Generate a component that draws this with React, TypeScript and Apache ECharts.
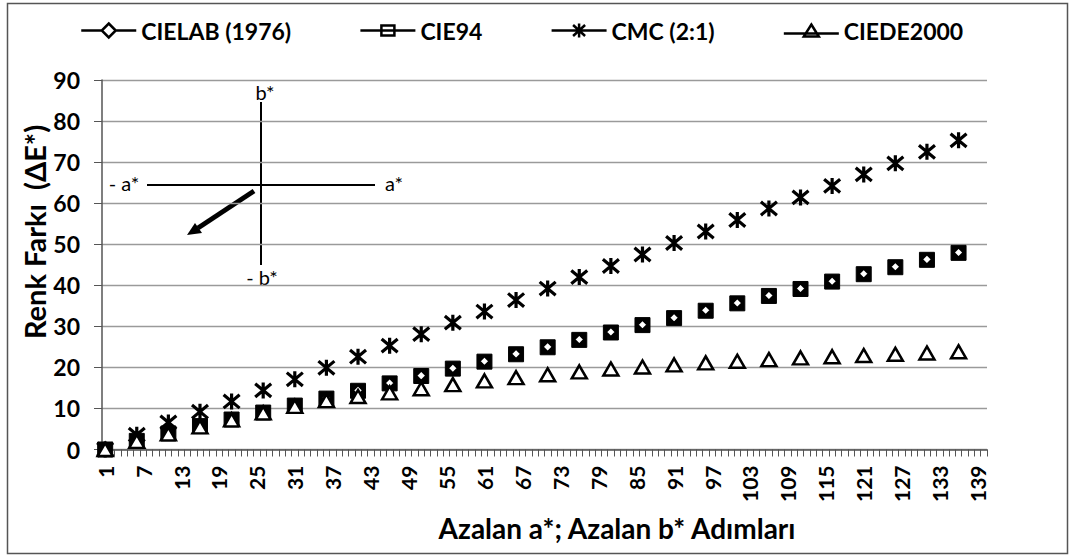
import React, { useEffect, useRef } from "react";
import * as echarts from "echarts";

// ---------- data ----------
const categories: string[] = Array.from({ length: 140 }, (_, i) => String(i + 1));
const steps: string[] = ["1","6","11","16","21","26","31","36","41","46","51","56","61","66","71","76","81","86","91","96","101","106","111","116","121","126","131","136"];
const cielab: number[] = [0, 2.1, 3.9, 5.8, 7.4, 9.1, 10.8, 12.6, 14.4, 16.2, 18.0, 19.8, 21.5, 23.3, 25.0, 26.8, 28.6, 30.4, 32.1, 33.9, 35.7, 37.5, 39.2, 41.0, 42.8, 44.5, 46.3, 48.0];
const cie94: number[] = [0, 2.1, 3.9, 5.7, 7.3, 9.0, 10.7, 12.4, 14.3, 16.1, 17.9, 19.7, 21.4, 23.2, 24.9, 26.7, 28.5, 30.3, 32.0, 33.8, 35.6, 37.4, 39.1, 40.9, 42.7, 44.4, 46.2, 47.9];
const cmc: number[] = [0, 3.6, 6.6, 9.2, 11.7, 14.4, 17.1, 19.9, 22.6, 25.3, 28.1, 30.9, 33.6, 36.4, 39.2, 42.0, 44.7, 47.5, 50.3, 53.1, 55.9, 58.7, 61.4, 64.2, 67.0, 69.7, 72.5, 75.3];
const ciede2000: number[] = [0, 2.0, 3.8, 5.5, 7.2, 8.9, 10.5, 11.9, 12.9, 13.8, 14.8, 15.8, 16.7, 17.5, 18.2, 18.9, 19.6, 20.1, 20.6, 21.1, 21.5, 21.9, 22.3, 22.6, 22.9, 23.2, 23.5, 23.8];
const seriesNames: string[] = ["CIELAB (1976)", "CIE94", "CMC (2:1)", "CIEDE2000"];
const yTicks = { min: 0, max: 90, interval: 10 };
const xTitle = "Azalan a*; Azalan b* Adımları";
const yTitle = "Renk Farkı  (ΔE*)";

const FONT = "Lato, 'Open Sans', sans-serif";
const STAR = "path://M0,0L10,10M10,0L0,10M5,-1L5,11";

// legend icons: 55 x 14 boxes, line + marker
const ICON_DIAMOND = "path://M0,7L20,7M35,7L55,7M27.5,0L34.5,7L27.5,14L20.5,7Z";
const ICON_SQUARE = "path://M0,7L55,7M21,2L34,2L34,12L21,12Z M0,0 M55,14";
const ICON_STAR = "path://M0,7L55,7M21.5,1.5L33.5,12.5M33.5,1.5L21.5,12.5M27.5,0L27.5,14";
const ICON_TRI = "path://M0,10L55,10M27.5,1L35,13L20,13Z M0,0 M55,14";

function pairs(vals: number[]) {
  return steps.map((s, i) => [s, vals[i]]);
}

export default function App() {
  const ref = useRef<HTMLDivElement>(null);
  useEffect(() => {
    if (!ref.current) return;
    const chart = echarts.init(ref.current, undefined, { renderer: "svg" });
    const option: any = {
      animation: false,
      backgroundColor: "#ffffff",
      textStyle: { fontFamily: FONT },
      grid: { left: 102, top: 80, width: 885, height: 369.5, containLabel: false },
      legend: {
        left: 75,
        top: 14,
        itemWidth: 55,
        itemHeight: 14,
        itemGap: 68,
        textStyle: { fontFamily: FONT, fontWeight: "bold", fontSize: 23, color: "#000" },
        data: [
          { name: seriesNames[0], icon: ICON_DIAMOND, itemStyle: { color: "#fff", borderColor: "#000", borderWidth: 2.5 } },
          { name: seriesNames[1], icon: ICON_SQUARE, itemStyle: { color: "rgba(255,255,255,0)", borderColor: "#000", borderWidth: 2.5 } },
          { name: seriesNames[2], icon: ICON_STAR, itemStyle: { color: "rgba(0,0,0,0)", borderColor: "#000", borderWidth: 2.5 } },
          { name: seriesNames[3], icon: ICON_TRI, itemStyle: { color: "rgba(255,255,255,0)", borderColor: "#000", borderWidth: 2.5 } },
        ],
      },
      xAxis: {
        type: "category",
        data: categories,
        boundaryGap: true,
        axisLine: { show: true, lineStyle: { color: "#555", width: 1.5 } },
        axisTick: { show: true, interval: 0, length: 7, lineStyle: { color: "#555", width: 1 } },
        axisLabel: {
          interval: 5,
          rotate: 90,
          margin: 16,
          fontFamily: FONT,
          fontWeight: "bold",
          fontSize: 21,
          color: "#000",
        },
        splitLine: { show: false },
      },
      yAxis: {
        type: "value",
        min: yTicks.min,
        max: yTicks.max,
        interval: yTicks.interval,
        axisLine: { show: true, lineStyle: { color: "#555", width: 1.5 } },
        axisTick: { show: true, length: 8, lineStyle: { color: "#555", width: 1 } },
        axisLabel: { margin: 22, fontFamily: FONT, fontWeight: "bold", fontSize: 23, color: "#000" },
        splitLine: { show: true, lineStyle: { color: "#9a9a9a", width: 1.3 } },
      },
      series: [
        {
          name: seriesNames[1],
          type: "line",
          data: pairs(cie94),
          symbol: "rect",
          symbolSize: 15,
          showAllSymbol: true,
          lineStyle: { width: 0, opacity: 0 },
          itemStyle: { color: "#000", borderColor: "#000", borderWidth: 1 },
          z: 2,
        },
        {
          name: seriesNames[0],
          type: "line",
          data: pairs(cielab),
          symbol: "diamond",
          symbolSize: 10,
          showAllSymbol: true,
          lineStyle: { width: 0, opacity: 0 },
          itemStyle: { color: "#fff", borderColor: "#000", borderWidth: 2 },
          z: 3,
        },
        {
          name: seriesNames[2],
          type: "line",
          data: pairs(cmc),
          symbol: STAR,
          symbolSize: 16,
          showAllSymbol: true,
          lineStyle: { width: 0, opacity: 0 },
          itemStyle: { color: "rgba(0,0,0,0)", borderColor: "#000", borderWidth: 3.2 },
          z: 4,
        },
        {
          name: seriesNames[3],
          type: "line",
          data: pairs(ciede2000),
          symbol: "triangle",
          symbolSize: [15, 13],
          showAllSymbol: true,
          lineStyle: { width: 0, opacity: 0 },
          itemStyle: { color: "#fff", borderColor: "#000", borderWidth: 2.5 },
          z: 5,
        },
      ],
      graphic: [
        {
          type: "rect",
          shape: { x: 7.5, y: 3.5, width: 1060, height: 550 },
          style: { fill: "none", stroke: "#555", lineWidth: 1.5 },
          z: 0,
          silent: true,
        },
        {
          type: "group",
          z: 100,
          children: [
            { type: "rect", shape: { x: 100.8, y: 81, width: 309, height: 208 }, style: { fill: "#fff" } },
            { type: "line", shape: { x1: 261, y1: 102, x2: 261, y2: 265 }, style: { stroke: "#000", lineWidth: 2 } },
            { type: "line", shape: { x1: 147, y1: 185, x2: 375, y2: 185 }, style: { stroke: "#000", lineWidth: 2 } },
            { type: "line", shape: { x1: 254, y1: 191, x2: 198, y2: 228 }, style: { stroke: "#000", lineWidth: 5 } },
            { type: "polygon", shape: { points: [[187, 235], [202, 233], [195, 223]] }, style: { fill: "#000" } },
            { type: "text", x: 265, y: 92, style: { text: "b*", font: "20px Lato, sans-serif", fill: "#000", align: "center", verticalAlign: "middle" } },
            { type: "text", x: 124, y: 183, style: { text: "- a*", font: "20px Lato, sans-serif", fill: "#000", align: "center", verticalAlign: "middle" } },
            { type: "text", x: 394, y: 183, style: { text: "a*", font: "20px Lato, sans-serif", fill: "#000", align: "center", verticalAlign: "middle" } },
            { type: "text", x: 262, y: 277, style: { text: "- b*", font: "20px Lato, sans-serif", fill: "#000", align: "center", verticalAlign: "middle" } },
          ],
        },
        {
          type: "text",
          x: 617,
          y: 528,
          z: 100,
          style: { text: xTitle, font: "bold 28px Lato, sans-serif", fill: "#000", align: "center", verticalAlign: "middle" },
        },
        {
          type: "text",
          x: 34,
          y: 232,
          rotation: Math.PI / 2,
          z: 100,
          style: { text: yTitle, font: "bold 29px Lato, sans-serif", fill: "#000", align: "center", verticalAlign: "middle" },
        },
      ],
    };
    chart.setOption(option);
    return () => chart.dispose();
  }, []);
  return (
    <div
      ref={ref}
      style={{ position: "fixed", left: 0, top: 0, width: 1075, height: 560, background: "#fff" }}
    />
  );
}
